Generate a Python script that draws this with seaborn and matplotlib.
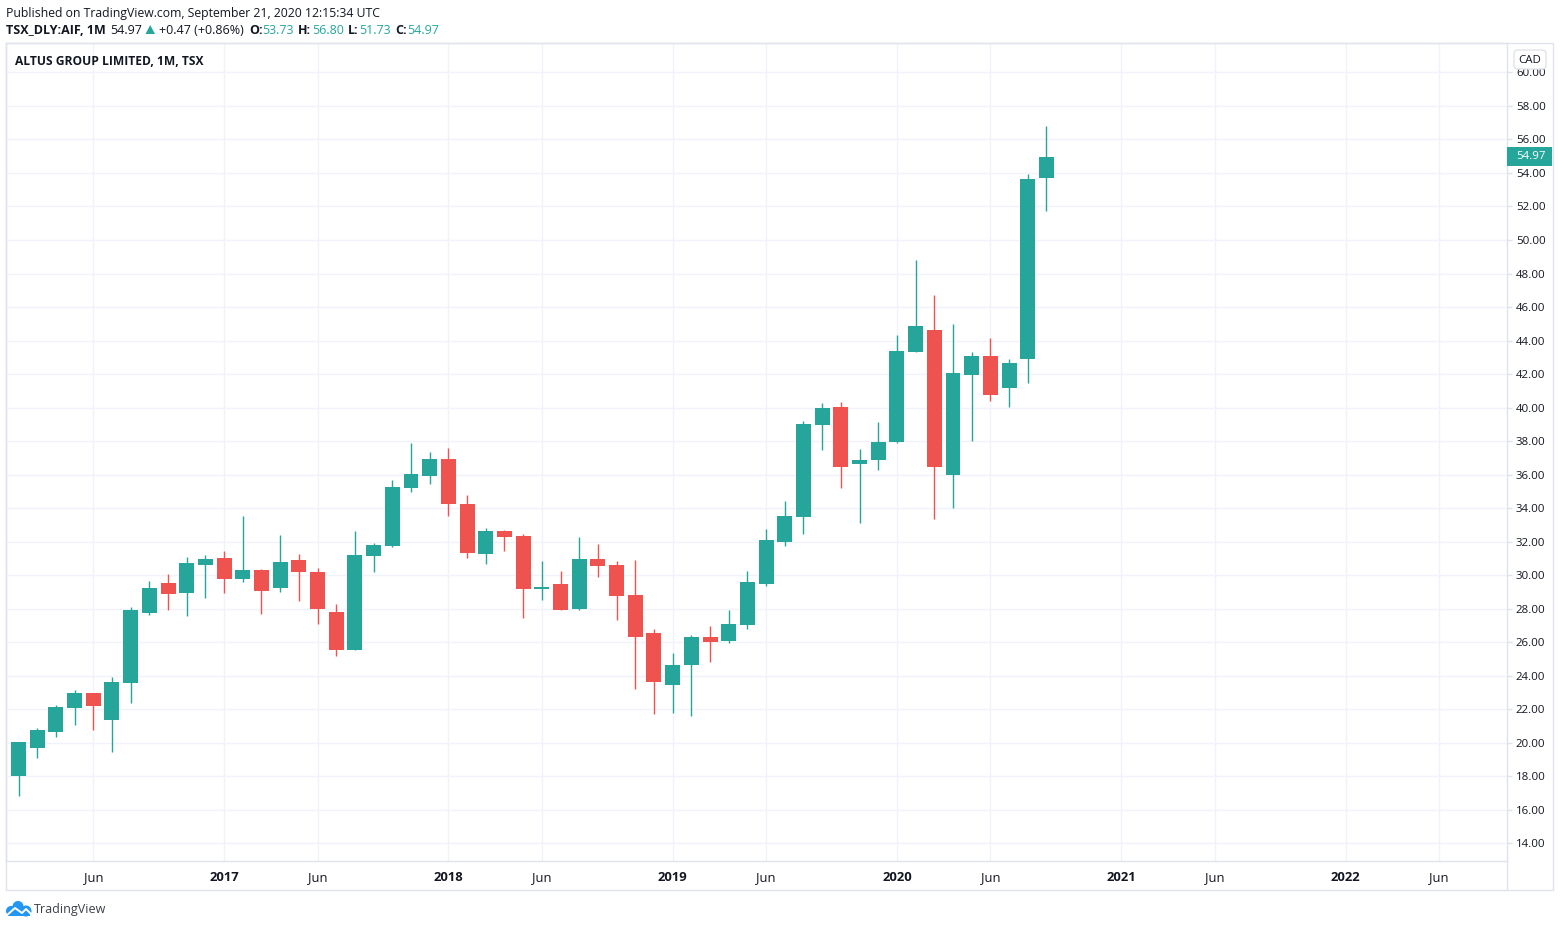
import matplotlib
matplotlib.use('Agg')

import numpy as np
import pandas as pd
import matplotlib.pyplot as plt
from matplotlib.patches import Rectangle, FancyBboxPatch, Circle
import seaborn as sns

# monthly candles, Feb 2016 -> Sep 2020
open_ = [18.02, 19.70, 20.65, 22.08, 22.97, 21.36, 23.57, 27.75, 29.54, 28.95,
         30.62, 31.03, 29.78, 30.32, 29.24, 30.92, 30.20, 27.81, 25.54, 31.15,
         31.75, 35.21, 35.93, 36.95, 34.26, 31.27, 32.65, 32.35, 29.18, 29.48,
         27.99, 30.98, 30.62, 28.83, 26.56, 23.45, 24.65, 26.32, 26.08, 27.03,
         29.48, 31.99, 33.48, 38.97, 40.05, 36.65, 36.89, 37.96, 43.33, 44.65,
         35.99, 41.96, 43.09, 41.18, 42.92, 53.73]
high = [20.05, 20.90, 22.26, 23.15, 22.97, 23.93, 28.10, 29.66, 30.08, 31.09,
        31.21, 31.45, 33.54, 30.38, 32.41, 31.27, 30.44, 28.29, 32.65, 31.93,
        35.69, 37.90, 37.36, 37.60, 34.80, 32.83, 32.71, 32.47, 30.86, 30.26,
        32.29, 31.87, 30.86, 30.92, 26.80, 25.36, 26.44, 26.98, 27.93, 30.26,
        32.77, 34.44, 39.21, 40.29, 40.35, 37.54, 39.15, 44.35, 48.83, 46.74,
        45.00, 43.33, 44.17, 42.92, 53.96, 56.80]
low = [16.85, 19.10, 20.35, 21.06, 20.77, 19.45, 22.38, 27.63, 27.93, 27.57,
       28.65, 28.95, 29.60, 27.69, 29.00, 28.47, 27.09, 25.18, 25.54, 30.20,
       31.69, 34.97, 35.45, 33.54, 31.03, 30.68, 31.45, 27.45, 28.53, 27.93,
       27.93, 29.90, 27.33, 23.21, 21.72, 21.78, 21.60, 24.83, 25.96, 26.80,
       29.36, 31.75, 32.47, 37.48, 35.21, 33.12, 36.29, 37.90, 43.33, 33.36,
       34.02, 38.02, 40.41, 40.05, 41.48, 51.73]
close = [20.05, 20.77, 22.14, 22.97, 22.20, 23.63, 27.93, 29.24, 28.89, 30.74,
         30.98, 29.78, 30.32, 29.06, 30.80, 30.20, 27.99, 25.54, 31.21, 31.81,
         35.27, 36.05, 36.95, 34.26, 31.33, 32.65, 32.29, 29.18, 29.30, 27.93,
         30.98, 30.56, 28.77, 26.32, 23.63, 24.65, 26.32, 26.02, 27.09, 29.60,
         32.11, 33.54, 39.03, 39.99, 36.47, 36.89, 37.96, 43.39, 44.89, 36.47,
         42.08, 43.09, 40.77, 42.68, 53.66, 54.97]

price_ticks = list(range(14, 62, 2))
time_ticks = [4, 11, 16, 23, 28, 35, 40, 47, 52, 59, 64, 71, 76]
time_labels = ['Jun', '2017', 'Jun', '2018', 'Jun', '2019', 'Jun', '2020',
               'Jun', '2021', 'Jun', '2022', 'Jun']

UP = '#26A69A'
DOWN = '#EF5350'
GRID = '#F0F3FA'
BORDER = '#E0E3EB'
INK = '#131722'

W, H = 1560, 927


def px(size):
    # css px to points at dpi 100
    return size * 0.72


sns.set_theme(style='white')
plt.rcParams['font.family'] = ['Open Sans', 'DejaVu Sans']

df = pd.DataFrame({'month': np.arange(len(open_)), 'open': open_, 'high': high,
                   'low': low, 'close': close})
df['body_low'] = df[['open', 'close']].min(axis=1)
df['body'] = (df['close'] - df['open']).abs()
df['up'] = df['close'] >= df['open']

fig = plt.figure(figsize=(W / 100, H / 100), dpi=100, facecolor='white')
ax = fig.add_axes([6 / W, 1 - 861 / H, 1501 / W, 818 / H])

# wicks first, bodies on top
ax.vlines(df['month'], df['low'], df['high'], colors=df['up'].map({True: UP, False: DOWN}),
          linewidth=1.0, zorder=3)
for flag, colour in [(True, UP), (False, DOWN)]:
    part = df[df['up'] == flag]
    sns.barplot(data=part, x='month', y='body', bottom=part['body_low'].values,
                native_scale=True, color=colour, saturation=1, width=0.8,
                errorbar=None, linewidth=0, ax=ax, zorder=4)

ax.set_xlim(-0.669, 79.64)
ax.set_ylim(12.95, 61.755)
ax.set_xlabel('')
ax.set_ylabel('')

ax.set_xticks(time_ticks)
ax.set_xticklabels(time_labels)
ax.set_yticks(price_ticks)
ax.set_yticklabels(['%.2f' % p for p in price_ticks])
ax.yaxis.tick_right()
ax.grid(True, color=GRID, linewidth=1)
ax.set_axisbelow(True)
ax.tick_params(axis='x', length=3, width=1, color=BORDER, labelcolor=INK, labelsize=px(13), pad=4)
ax.tick_params(axis='y', length=3.6, width=1, color=BORDER, labelcolor=INK, labelsize=px(11.5), pad=2.8)
for lab in ax.get_xticklabels():
    if lab.get_text() != 'Jun':
        lab.set_fontweight('bold')
for s in ax.spines.values():
    s.set_color(BORDER)
    s.set_linewidth(1)

# last price tag on the price scale
ax.add_patch(Rectangle((1, close[-1] - 0.567), 45 / 1501, 1.134, transform=ax.get_yaxis_transform(),
                       facecolor=UP, edgecolor='none', clip_on=False, zorder=6))
ax.text(1 + 9 / 1501, close[-1], '%.2f' % close[-1], transform=ax.get_yaxis_transform(),
        color='white', fontsize=px(11.5), va='center', ha='left', zorder=7, clip_on=False)

# overlay in image pixels for the page furniture
over = fig.add_axes([0, 0, 1, 1], zorder=10)
over.set_xlim(0, W)
over.set_ylim(H, 0)
over.axis('off')

over.add_patch(Rectangle((6, 43), 1547, 847, facecolor='none', edgecolor=BORDER, linewidth=1))
over.plot([1507, 1507], [861, 890], color=BORDER, linewidth=1)
over.add_patch(FancyBboxPatch((1517, 53), 26, 13, boxstyle='round,pad=3,rounding_size=4',
                              facecolor='white', edgecolor=BORDER, linewidth=1))
over.text(1530, 60, 'CAD', fontsize=px(11.5), color=INK, ha='center', va='center')

over.text(6, 13, 'Published on TradingView.com, September 21, 2020 12:15:34 UTC',
          fontsize=px(12.25), color=INK, va='center')

# header row with the OHLC values
head = [(6, 'TSX_DLY:AIF, 1M', 'bold', INK), (110, '54.97', 'normal', INK),
        (159, '+0.47 (+0.86%)', 'normal', INK),
        (249, 'O:', 'bold', INK), (262, '53.73', 'normal', UP),
        (298, 'H:', 'bold', INK), (312, '56.80', 'normal', UP),
        (348, 'L:', 'bold', INK), (359, '51.73', 'normal', UP),
        (395, 'C:', 'bold', INK), (407, '54.97', 'normal', UP)]
for x, txt, weight, col in head:
    over.text(x, 30, txt, fontsize=px(12.5), fontweight=weight, color=col, va='center')
over.fill([145.5, 155, 150.2], [34, 34, 25], color=UP, linewidth=0)

over.text(15, 61, 'ALTUS GROUP LIMITED, 1M, TSX', fontsize=px(12.05), fontweight='bold',
          color=INK, va='center')

# logo: small cloud with the white zigzag
LOGO = '#2196F3'
for cx, cy, r in [(11, 911, 5), (18, 906.5, 5.5), (26, 911, 5.5)]:
    over.add_patch(Circle((cx, cy), r, facecolor=LOGO, edgecolor='none'))
over.add_patch(Rectangle((8, 908), 22, 8, facecolor=LOGO, edgecolor='none'))
over.plot([6, 15, 22, 26, 33], [916, 908, 913, 909, 916], color='white', linewidth=1.4)
over.text(34, 909, 'TradingView', fontsize=px(12.5), color='#3b3f4a', va='center')

fig.savefig('out.png', dpi=100)
